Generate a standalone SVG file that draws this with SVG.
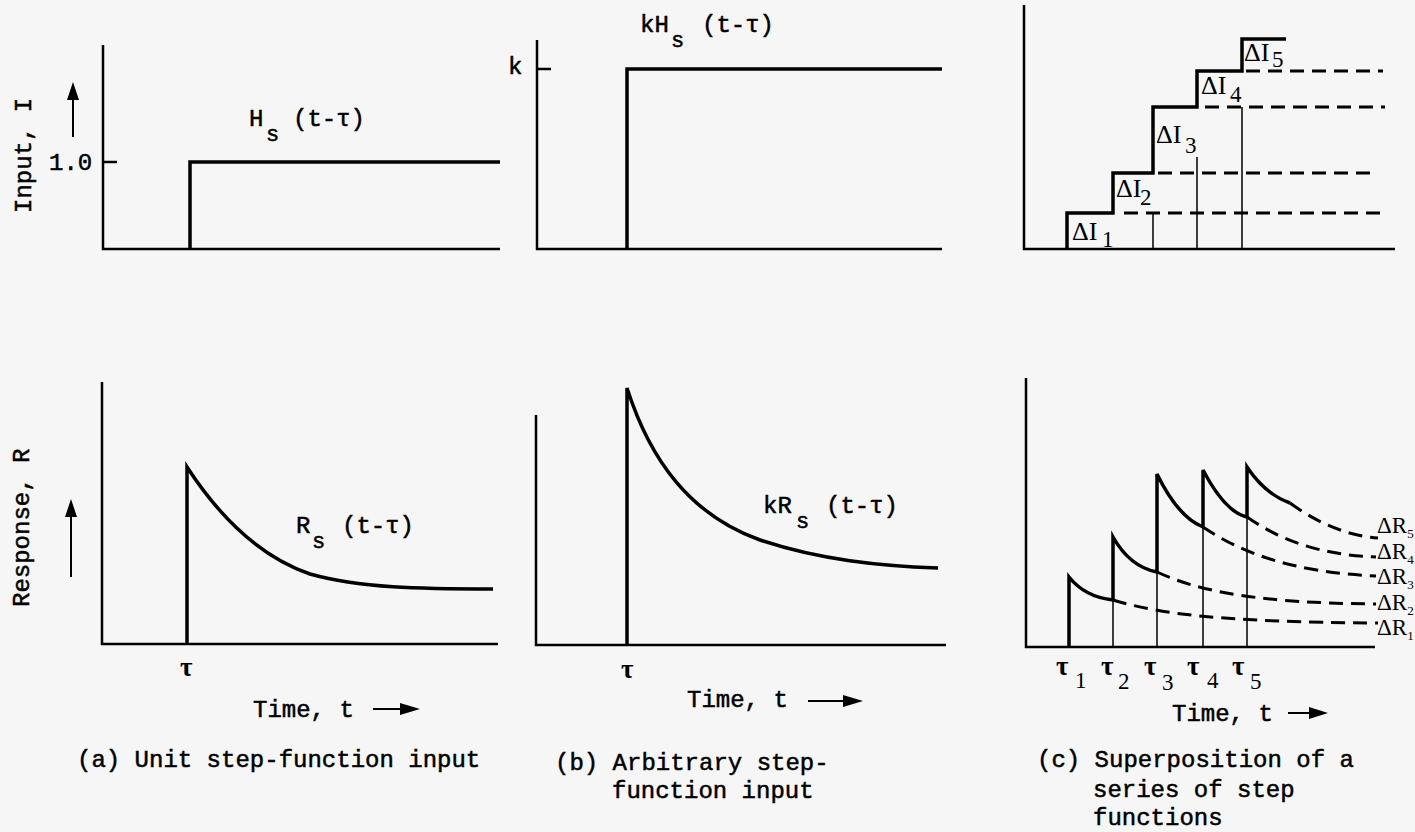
<svg xmlns="http://www.w3.org/2000/svg" width="1415" height="832" viewBox="0 0 1415 832">
<style>
.ax{stroke:#000;stroke-width:2.5;fill:none}
.th{stroke:#000;stroke-width:3.5;fill:none;stroke-linejoin:miter}
.tn{stroke:#000;stroke-width:1.5;fill:none}
.ds{stroke:#000;stroke-width:3;fill:none;stroke-dasharray:14 8}
.sh{stroke:#000;stroke-width:2;fill:none}
.ah{fill:#000;stroke:none}
.mono{font-family:"Liberation Mono","Courier New",monospace;font-size:24px;fill:#000;stroke:#000;stroke-width:0.5}
.sub{font-family:"Liberation Mono","Courier New",monospace;font-size:22px;fill:#000;stroke:#000;stroke-width:0.5}
.ser{font-family:"Liberation Serif","Times New Roman",serif;font-size:26px;fill:#000}
.sers{font-family:"Liberation Serif","Times New Roman",serif;font-size:23px;fill:#000}
.tau{font-family:"Liberation Serif","Times New Roman",serif;font-size:27px;font-weight:bold;fill:#000}
.cap{font-family:"Liberation Mono","Courier New",monospace;font-size:24px;fill:#000;stroke:#000;stroke-width:0.5}
</style>
<rect width="1415" height="832" fill="#f6f6f6"/>

<g id="panel-a-input">
  <path class="ax" d="M103,45 V249 H500"/>
  <path class="ax" d="M103,162 H117"/>
  <path class="th" d="M190,249 V162 H500"/>
  <text class="mono" x="49" y="170" font-size="23">1.0</text>
  <path class="sh" d="M73,137 V96"/>
  <polygon class="ah" points="73,82 67,100 79,100"/>
  <text class="mono" font-size="23" transform="translate(31,213) rotate(-90)">Input, I</text>
  <text class="mono" x="249" y="126">H</text>
  <text class="sub" x="266" y="141">s</text>
  <text class="mono" x="293" y="126">(t-τ)</text>
</g>

<g id="panel-b-input">
  <path class="ax" d="M537,40 V249 H942"/>
  <path class="ax" d="M537,69 H551"/>
  <text class="mono" x="508" y="74">k</text>
  <path class="th" d="M627,249 V69 H942"/>
  <text class="mono" x="640" y="32">kH</text>
  <text class="sub" x="671" y="47">s</text>
  <text class="mono" x="702" y="32">(t-τ)</text>
</g>

<g id="panel-c-input">
  <path class="ax" d="M1024,5 V249 H1395"/>
  <path class="th" d="M1067,249 V213 H1113 V173 H1153 V107 H1197 V71 H1242 V39 H1286"/>
  <path class="ds" d="M1124,213 H1382"/>
  <path class="ds" d="M1158,173 H1378"/>
  <path class="ds" d="M1205,107 H1385"/>
  <path class="ds" d="M1246,71 H1383"/>
  <path class="tn" d="M1153,213 V249 M1197,157 V249 M1242,107 V249"/>
  <text class="ser" x="1072" y="240">ΔI<tspan x="1102" y="247" font-size="23">1</tspan></text>
  <text class="ser" x="1116" y="197">ΔI<tspan x="1140" y="205" font-size="23">2</tspan></text>
  <text class="ser" x="1156" y="143">ΔI<tspan x="1185" y="153" font-size="23">3</tspan></text>
  <text class="ser" x="1201" y="94">ΔI<tspan x="1230" y="102" font-size="23">4</tspan></text>
  <text class="ser" x="1244" y="61">ΔI<tspan x="1272" y="67" font-size="23">5</tspan></text>
</g>

<g id="panel-a-response">
  <path class="ax" d="M102,382 V644 H498"/>
  <path class="th" d="M187,644 V467 C215,510 255,555 310,574 C360,588 420,589 493,589"/>
  <path class="sh" d="M71,577 V514"/>
  <polygon class="ah" points="71,499 65,517 77,517"/>
  <text class="mono" transform="translate(29,607) rotate(-90)">Response, R</text>
  <text class="mono" x="296" y="533">R</text>
  <text class="sub" x="312" y="548">s</text>
  <text class="mono" x="342" y="533">(t-τ)</text>
  <text class="tau" x="180" y="676">τ</text>
  <text class="mono" x="253" y="717">Time, t</text>
  <path class="sh" d="M373,709 H402"/>
  <polygon class="ah" points="420,709 400,703 400,715"/>
  <text class="cap" x="77" y="767">(a) Unit step-function input</text>
</g>

<g id="panel-b-response">
  <path class="ax" d="M536,415 V645 H946"/>
  <path class="th" d="M627,645 V388 C650,460 690,515 760,540 C820,560 880,566 938,568"/>
  <text class="mono" x="763" y="513">kR</text>
  <text class="sub" x="796" y="528">s</text>
  <text class="mono" x="826" y="513">(t-τ)</text>
  <text class="tau" x="621" y="678">τ</text>
  <text class="mono" x="687" y="707">Time, t</text>
  <path class="sh" d="M808,701 H845"/>
  <polygon class="ah" points="863,701 843,695 843,707"/>
  <text class="cap" x="555" y="770">(b) Arbitrary step-</text>
  <text class="cap" x="612" y="798">function input</text>
</g>

<g id="panel-c-response">
  <path class="ax" d="M1026,378 V647 H1375"/>
  <path class="th" d="M1069,647 V577 Q1085,597 1113,600 V537 Q1130,567 1157,572 V474 Q1178,517 1203,527 V470 Q1225,512 1247,517 V467 Q1265,494 1290,503"/>
  <path class="ds" d="M1113,600 C1160,614 1220,622 1378,623"/>
  <path class="ds" d="M1157,572 C1200,592 1260,603 1376,604"/>
  <path class="ds" d="M1203,527 C1240,552 1290,572 1376,576"/>
  <path class="ds" d="M1247,517 C1280,540 1320,555 1376,557"/>
  <path class="ds" d="M1290,503 C1320,525 1350,536 1378,538"/>
  <path class="tn" d="M1113,600 V647 M1157,572 V647 M1203,527 V647 M1247,517 V647"/>
  <text class="sers" font-size="20" x="1377" y="533">ΔR<tspan dy="5" font-size="13">5</tspan></text>
  <text class="sers" font-size="20" x="1377" y="559">ΔR<tspan dy="5" font-size="13">4</tspan></text>
  <text class="sers" font-size="20" x="1377" y="584">ΔR<tspan dy="5" font-size="13">3</tspan></text>
  <text class="sers" font-size="20" x="1377" y="610">ΔR<tspan dy="5" font-size="13">2</tspan></text>
  <text class="sers" font-size="20" x="1377" y="635">ΔR<tspan dy="5" font-size="13">1</tspan></text>
  <text class="tau" x="1056" y="675">τ<tspan class="sers" font-weight="normal" font-size="20" x="1075" y="688">1</tspan></text>
  <text class="tau" x="1101" y="675">τ<tspan class="sers" font-weight="normal" font-size="20" x="1118" y="689">2</tspan></text>
  <text class="tau" x="1144" y="675">τ<tspan class="sers" font-weight="normal" font-size="20" x="1162" y="690">3</tspan></text>
  <text class="tau" x="1187" y="675">τ<tspan class="sers" font-weight="normal" font-size="20" x="1207" y="688">4</tspan></text>
  <text class="tau" x="1232" y="675">τ<tspan class="sers" font-weight="normal" font-size="20" x="1250" y="689">5</tspan></text>
  <text class="mono" x="1172" y="721">Time, t</text>
  <path class="sh" d="M1288,713 H1312"/>
  <polygon class="ah" points="1328,713 1309,707 1309,719"/>
  <text class="cap" x="1037" y="767">(c) Superposition of a</text>
  <text class="cap" x="1093" y="797">series of step</text>
  <text class="cap" x="1093" y="825">functions</text>
</g>
</svg>
